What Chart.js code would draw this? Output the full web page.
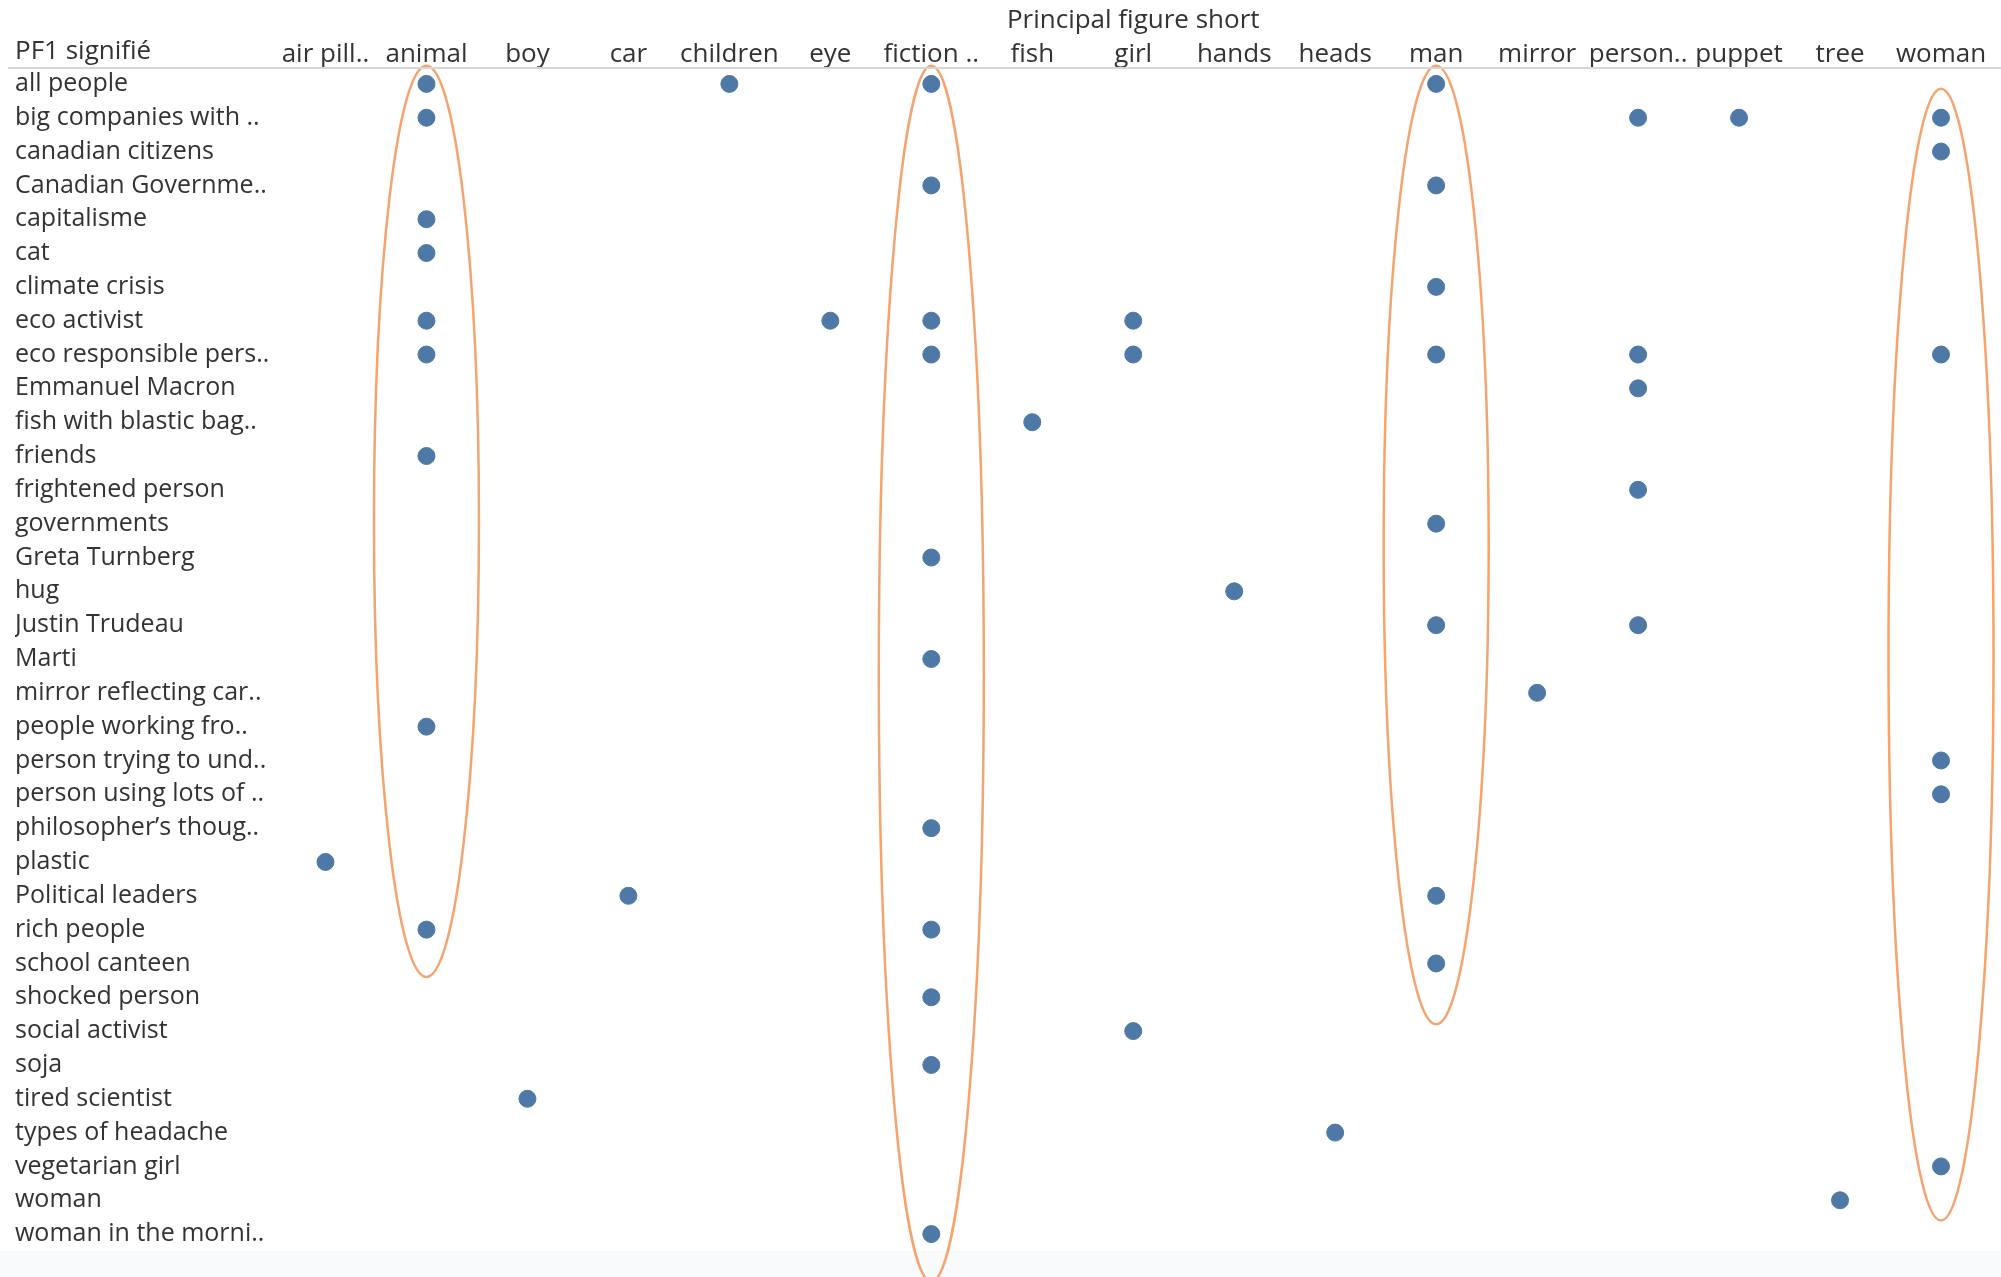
<!DOCTYPE html>
<html>
<head>
<meta charset="utf-8">
<script src="https://cdn.jsdelivr.net/npm/chart.js@4/dist/chart.umd.min.js"></script>
<style>
  body { margin: 0; background: #fff; }
  canvas { display: block; }
</style>
</head>
<body>
<canvas id="chart" width="2001" height="1277"></canvas>
<script>
// Columns (Principal figure short)
const figures = ['air pill..', 'animal', 'boy', 'car', 'children', 'eye', 'fiction ..', 'fish', 'girl',
  'hands', 'heads', 'man', 'mirror', 'person..', 'puppet', 'tree', 'woman'];

// Rows (PF1 signifié)
const meanings = ['all people', 'big companies with ..', 'canadian citizens', 'Canadian Governme..',
  'capitalisme', 'cat', 'climate crisis', 'eco activist', 'eco responsible pers..', 'Emmanuel Macron',
  'fish with blastic bag..', 'friends', 'frightened person', 'governments', 'Greta Turnberg', 'hug',
  'Justin Trudeau', 'Marti', 'mirror reflecting car..', 'people working fro..', 'person trying to und..',
  'person using lots of ..', 'philosopher\u2019s thoug..', 'plastic', 'Political leaders', 'rich people',
  'school canteen', 'shocked person', 'social activist', 'soja', 'tired scientist', 'types of headache',
  'vegetarian girl', 'woman', 'woman in the morni..'];

// Figures marked for each meaning, same order as meanings
const marks = [
  ['animal', 'children', 'fiction ..', 'man'],
  ['animal', 'person..', 'puppet', 'woman'],
  ['woman'],
  ['fiction ..', 'man'],
  ['animal'],
  ['animal'],
  ['man'],
  ['animal', 'eye', 'fiction ..', 'girl'],
  ['animal', 'fiction ..', 'girl', 'man', 'person..', 'woman'],
  ['person..'],
  ['fish'],
  ['animal'],
  ['person..'],
  ['man'],
  ['fiction ..'],
  ['hands'],
  ['man', 'person..'],
  ['fiction ..'],
  ['mirror'],
  ['animal'],
  ['woman'],
  ['woman'],
  ['fiction ..'],
  ['air pill..'],
  ['car', 'man'],
  ['animal', 'fiction ..'],
  ['man'],
  ['fiction ..'],
  ['girl'],
  ['fiction ..'],
  ['boy'],
  ['heads'],
  ['woman'],
  ['tree'],
  ['fiction ..']
];

// Highlight rings, in column / row units
const ringFigures = ['animal', 'fiction ..', 'man', 'woman'];
const ringTop = [-0.54, -0.54, -0.54, 0.14];
const ringBottom = [26.4, 35.4, 27.8, 33.6];

const points = [];
meanings.forEach((m, i) => {
  marks[i].forEach(f => points.push({ x: f, y: m }));
});

const textColor = '#333333';
const rowFont = { family: 'Open Sans', size: 25 };
const headFont = { family: 'Open Sans', size: 26 };

const backdrop = {
  id: 'backdrop',
  beforeDraw(chart) {
    const ctx = chart.ctx;
    ctx.save();
    ctx.fillStyle = '#ffffff';
    ctx.fillRect(0, 0, chart.width, chart.height);
    ctx.fillStyle = '#f9fafc';
    ctx.fillRect(0, chart.chartArea.bottom, chart.width, chart.height - chart.chartArea.bottom);
    ctx.restore();
  },
  afterDraw(chart) {
    const ctx = chart.ctx;
    const top = chart.chartArea.top;
    ctx.save();
    // header rule
    ctx.strokeStyle = '#d6d6d6';
    ctx.lineWidth = 2;
    ctx.beginPath();
    ctx.moveTo(8, top + 1);
    ctx.lineTo(chart.width, top + 1);
    ctx.stroke();
    // row header title
    ctx.fillStyle = textColor;
    ctx.font = `${headFont.size}px ${headFont.family}`;
    ctx.textBaseline = 'middle';
    ctx.textAlign = 'left';
    ctx.fillText('PF1 signifi\u00e9', 15, 52);
    ctx.restore();
  }
};

const rings = {
  id: 'rings',
  afterDatasetsDraw(chart) {
    const { ctx, scales: { x, y } } = chart;
    const band = x.getPixelForValue(1) - x.getPixelForValue(0);
    ctx.save();
    ctx.strokeStyle = '#f3a46f';
    ctx.lineWidth = 2.5;
    ringFigures.forEach((f, i) => {
      const cx = x.getPixelForValue(figures.indexOf(f));
      const y1 = y.getPixelForValue(ringTop[i]);
      const y2 = y.getPixelForValue(ringBottom[i]);
      ctx.beginPath();
      ctx.ellipse(cx, (y1 + y2) / 2, band * 0.52, (y2 - y1) / 2, 0, 0, Math.PI * 2);
      ctx.stroke();
    });
    ctx.restore();
  }
};

new Chart(document.getElementById('chart'), {
  type: 'scatter',
  data: {
    datasets: [{
      data: points,
      backgroundColor: '#4e79a7',
      borderColor: '#4e79a7',
      pointRadius: 8.5,
      pointHoverRadius: 8.5
    }]
  },
  options: {
    responsive: false,
    animation: false,
    layout: { padding: { left: 15, right: 4, top: 0, bottom: 26 } },
    plugins: { legend: { display: false }, tooltip: { enabled: false } },
    scales: {
      x: {
        type: 'category',
        labels: figures,
        position: 'top',
        offset: true,
        grid: { display: false, drawTicks: false },
        border: { display: false },
        ticks: { color: textColor, font: headFont, autoSkip: false, maxRotation: 0, padding: -3 },
        title: {
          display: true,
          text: 'Principal figure short',
          color: textColor,
          font: headFont,
          padding: { top: 5, bottom: 0 }
        },
        afterFit(scale) {
          scale.height = 67;
          scale.paddingLeft = 0;
          scale.paddingRight = 0;
        }
      },
      y: {
        type: 'category',
        labels: meanings,
        offset: true,
        grid: { display: false, drawTicks: false },
        border: { display: false },
        ticks: { color: textColor, font: rowFont, autoSkip: false, crossAlign: 'far', padding: 0 },
        afterFit(scale) {
          scale.width = 260;
          scale.paddingTop = 0;
          scale.paddingBottom = 0;
        }
      }
    }
  },
  plugins: [backdrop, rings]
});
</script>
</body>
</html>
